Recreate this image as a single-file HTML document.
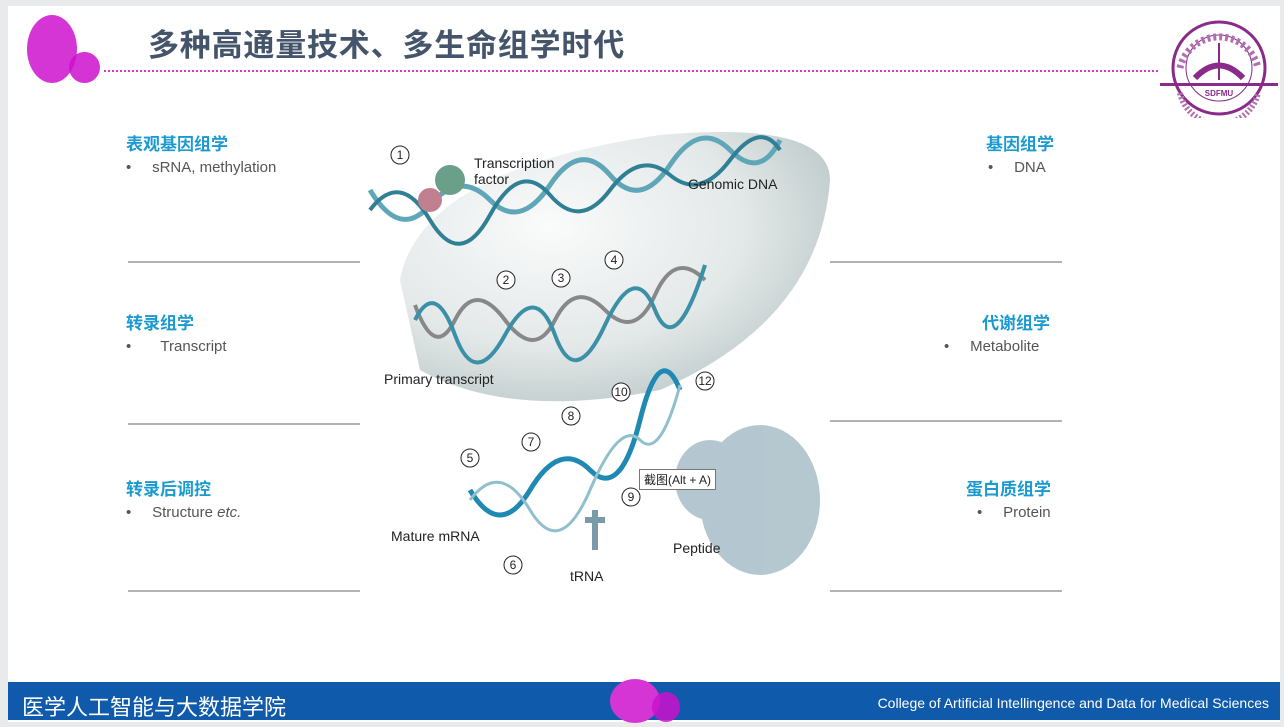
<!DOCTYPE html>
<html><head><meta charset="utf-8"><style>
body{margin:0;width:1284px;height:727px;background:#e9eaec;position:relative;overflow:hidden;font-family:"Liberation Sans","Noto Sans CJK SC",sans-serif}
#page{position:absolute;left:8px;top:6px;width:1272px;height:716px;background:#fff}
.t{position:absolute;color:#1a9ad0;font-weight:bold;font-size:17px}
.s{position:absolute;color:#555;font-size:15px}
.hr{position:absolute;height:2px;background:#b3b3b3;width:232px}
.lbl{position:absolute;font-size:14px;color:#222}
</style></head><body>
<div id="page"></div>
<div style="position:absolute;left:27px;top:15px;width:50px;height:68px;border-radius:50%;background:#d535d5"></div>
<div style="position:absolute;left:69px;top:52px;width:31px;height:31px;border-radius:50%;background:#cc10cc;opacity:.85"></div>
<div style="position:absolute;left:148px;top:20px;font-size:31px;font-weight:bold;color:#44546a;letter-spacing:0.8px">多种高通量技术、多生命组学时代</div>
<div style="position:absolute;left:104px;top:70px;width:1054px;border-top:2px dotted #d535d5"></div>
<svg style="position:absolute;left:1160px;top:18px" width="118" height="100" viewBox="0 0 118 100">
<circle cx="59" cy="50" r="46" fill="none" stroke="#8a2a8a" stroke-width="3"/>
<circle cx="59" cy="50" r="33" fill="none" stroke="#8a2a8a" stroke-width="1"/>
<path d="M20 50 A40 40 0 0 1 98 50" fill="none" stroke="#b070b0" stroke-width="7" stroke-dasharray="3 3"/>
<rect x="0" y="65" width="118" height="3" fill="#8a2a8a"/>
<path d="M35 60 Q59 35 83 60" fill="none" stroke="#8a2a8a" stroke-width="6"/>
<line x1="59" y1="25" x2="59" y2="62" stroke="#8a2a8a" stroke-width="2"/>
<text x="59" y="78" font-size="8" font-weight="bold" fill="#8a2a8a" text-anchor="middle" font-family="Liberation Sans">SDFMU</text>
<path d="M20 75 A40 40 0 0 0 98 75" fill="none" stroke="#b070b0" stroke-width="6" stroke-dasharray="2 2"/>
</svg>

<div class="t" style="left:126px;top:130px">表观基因组学</div>
<div class="s" style="left:126px;top:159px">•&nbsp;&nbsp;&nbsp;&nbsp;&nbsp;sRNA, methylation</div>
<div class="hr" style="left:128px;top:261px"></div>
<div class="t" style="left:126px;top:309px">转录组学</div>
<div class="s" style="left:126px;top:338px">•&nbsp;&nbsp;&nbsp;&nbsp;&nbsp;&nbsp;&nbsp;Transcript</div>
<div class="hr" style="left:128px;top:423px"></div>
<div class="t" style="left:126px;top:475px">转录后调控</div>
<div class="s" style="left:126px;top:504px">•&nbsp;&nbsp;&nbsp;&nbsp;&nbsp;Structure <i>etc.</i></div>
<div class="hr" style="left:128px;top:590px"></div>

<div class="t" style="left:986px;top:130px">基因组学</div>
<div class="s" style="left:988px;top:159px">•&nbsp;&nbsp;&nbsp;&nbsp;&nbsp;DNA</div>
<div class="hr" style="left:830px;top:261px"></div>
<div class="t" style="left:982px;top:309px">代谢组学</div>
<div class="s" style="left:944px;top:338px">•&nbsp;&nbsp;&nbsp;&nbsp;&nbsp;Metabolite</div>
<div class="hr" style="left:830px;top:420px"></div>
<div class="t" style="left:966px;top:475px">蛋白质组学</div>
<div class="s" style="left:977px;top:504px">•&nbsp;&nbsp;&nbsp;&nbsp;&nbsp;Protein</div>
<div class="hr" style="left:830px;top:590px"></div>

<svg style="position:absolute;left:360px;top:120px" width="480" height="470" font-family="Liberation Sans" font-size="12">
<defs><radialGradient id="g" cx="0.35" cy="0.35" r="0.75"><stop offset="0" stop-color="#fafbfb"/><stop offset="0.6" stop-color="#e3e8e8"/><stop offset="1" stop-color="#b9c6c6"/></radialGradient></defs>
<path d="M40 160 Q60 50 300 15 Q470 0 470 60 Q460 200 300 270 Q150 300 60 250 Z" fill="url(#g)"/>
<path d="M10 70 Q40 120 70 85 T130 80 T190 65 T250 55 T310 45 T370 30 T420 20" fill="none" stroke="#5fa7b8" stroke-width="5"/>
<path d="M10 90 Q40 50 70 100 T130 95 T190 75 T250 70 T310 55 T370 40 T420 30" fill="none" stroke="#2f7f95" stroke-width="4"/>
<path d="M55 185 Q75 240 95 200 T145 200 T195 200 T245 190 T295 175 T345 160" fill="none" stroke="#888" stroke-width="4"/>
<path d="M55 200 Q75 160 95 215 T145 215 T195 215 T245 205 T295 190 T345 145" fill="none" stroke="#3b90a8" stroke-width="4"/>
<path d="M110 370 Q140 420 170 370 T230 350 T280 300 T320 270" fill="none" stroke="#1f89b4" stroke-width="5"/>
<path d="M110 380 Q140 340 170 390 T230 370 T280 320 T320 265" fill="none" stroke="#8fc0cc" stroke-width="3"/>
<g fill="#a8bec8" opacity=".85"><ellipse cx="400" cy="380" rx="60" ry="75"/><ellipse cx="350" cy="360" rx="35" ry="40"/></g>
<circle cx="90" cy="60" r="15" fill="#6aa08a"/><circle cx="70" cy="80" r="12" fill="#c08090"/>
<path d="M235 390 v40 M225 400 h20" stroke="#7a9aaa" stroke-width="6"/>
<g fill="#fff" stroke="#222"><circle cx="40" cy="35" r="9"/><circle cx="146" cy="160" r="9"/><circle cx="201" cy="158" r="9"/><circle cx="254" cy="140" r="9"/><circle cx="110" cy="338" r="9"/><circle cx="171" cy="322" r="9"/><circle cx="211" cy="296" r="9"/><circle cx="261" cy="272" r="9"/><circle cx="345" cy="261" r="9"/><circle cx="153" cy="445" r="9"/><circle cx="271" cy="377" r="9"/></g>
<g fill="#222" text-anchor="middle"><text x="40" y="39">1</text><text x="146" y="164">2</text><text x="201" y="162">3</text><text x="254" y="144">4</text><text x="110" y="342">5</text><text x="171" y="326">7</text><text x="211" y="300">8</text><text x="261" y="276">10</text><text x="345" y="265">12</text><text x="153" y="449">6</text><text x="271" y="381">9</text></g>
</svg>
<div class="lbl" style="left:474px;top:155px">Transcription<br>factor</div>
<div class="lbl" style="left:688px;top:176px">Genomic DNA</div>
<div class="lbl" style="left:384px;top:371px">Primary transcript</div>
<div class="lbl" style="left:391px;top:528px">Mature mRNA</div>
<div class="lbl" style="left:570px;top:568px">tRNA</div>
<div class="lbl" style="left:673px;top:540px">Peptide</div>
<div style="position:absolute;left:639px;top:469px;border:1px solid #777;background:#fff;font-size:12px;padding:1px 4px;color:#222">截图(Alt + A)</div>

<div style="position:absolute;left:8px;top:682px;width:1272px;height:38px;background:#0f5aab"></div>
<div style="position:absolute;left:22px;top:690px;color:#fff;font-size:22px">医学人工智能与大数据学院</div>
<div style="position:absolute;right:15px;top:695px;color:#fff;font-size:14px">College of Artificial Intellingence and Data for Medical Sciences</div>
<div style="position:absolute;left:610px;top:679px;width:50px;height:44px;border-radius:50%;background:#d535d5"></div>
<div style="position:absolute;left:652px;top:692px;width:28px;height:30px;border-radius:50%;background:#cc10cc;opacity:.85"></div>
</body></html>
